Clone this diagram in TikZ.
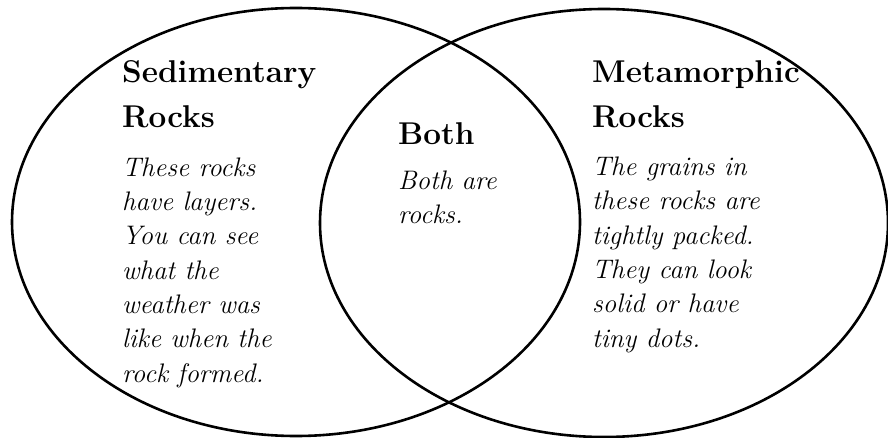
\documentclass[tikz,border=0pt]{standalone}
\usetikzlibrary{shapes.geometric,positioning}

\begin{document}
\begin{tikzpicture}[
  x=1pt, y=-1pt,
  set/.style={draw, ellipse, line width=2.6pt, minimum width=568pt, minimum height=428pt, inner sep=0pt},
  head/.style={anchor=base west, align=left, inner sep=0pt, font=\fontsize{31.5}{45}\selectfont\bfseries},
  body/.style={anchor=base west, align=left, inner sep=0pt, font=\fontsize{26.8}{34.3}\selectfont\itshape},
]
\useasboundingbox (0,0) rectangle (888,438);
% the two sets
\node[set] (sedi) at (296,222) {};
\node[set] (meta) at (604,223) {};
% left set
\node[head] (sedihead) at (122,128) {Sedimentary\\Rocks};
\node[body] (seditext) at (122,382) {These rocks\\have layers.\\You can see\\what the\\weather was\\like when the\\rock formed.};
% overlap
\node[head] (bothhead) at (398,145) {Both};
\node[body] (bothtext) at (398,224) {Both are\\rocks.};
% right set
\node[head] (metahead) at (592,128) {Metamorphic\\Rocks};
\node[body] (metatext) at (592,347) {The grains in\\these rocks are\\tightly packed.\\They can look\\solid or have\\tiny dots.};
\end{tikzpicture}
\end{document}
